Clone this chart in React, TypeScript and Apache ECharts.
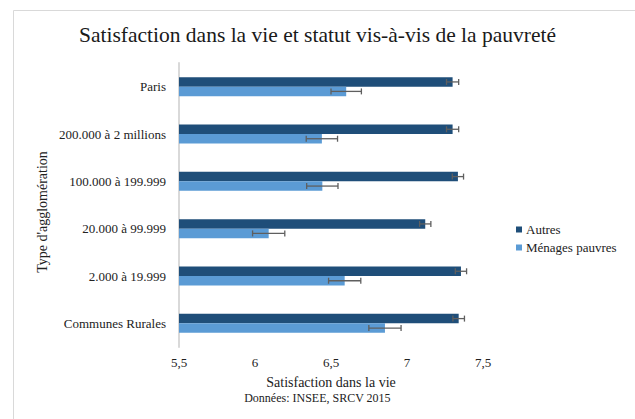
import React, { useEffect, useRef } from "react";
import * as echarts from "echarts";

const categories = [
  "Communes Rurales",
  "2.000 à 19.999",
  "20.000 à 99.999",
  "100.000 à 199.999",
  "200.000 à 2 millions",
  "Paris",
];
const autres = [7.34, 7.355, 7.12, 7.335, 7.3, 7.3];
const autresErr = [0.038, 0.037, 0.037, 0.037, 0.04, 0.04];
const pauvres = [6.855, 6.59, 6.09, 6.443, 6.44, 6.6];
const pauvresErr = [0.106, 0.106, 0.106, 0.103, 0.103, 0.1];
const xTicks = [5.5, 6, 6.5, 7, 7.5];

const FONT = "Liberation Serif";
const DARK = "#1F4E79";
const LIGHT = "#5B9BD5";
const ERR = "#5f5f5f";

function errData(vals: number[], errs: number[]) {
  return vals.map((v, i) => [i, v - errs[i], v + errs[i]]);
}

function makeErr(sign: number) {
  return (params: any, api: any) => {
    const idx = api.value(0);
    const lo = api.coord([api.value(1), idx]);
    const hi = api.coord([api.value(2), idx]);
    const band = api.size([0, 1])[1];
    const y = lo[1] + sign * band * 0.1;
    const cap = 3;
    const style = { stroke: ERR, lineWidth: 1.3 };
    return {
      type: "group",
      children: [
        { type: "line", shape: { x1: lo[0], y1: y, x2: hi[0], y2: y }, style },
        { type: "line", shape: { x1: lo[0], y1: y - cap, x2: lo[0], y2: y + cap }, style },
        { type: "line", shape: { x1: hi[0], y1: y - cap, x2: hi[0], y2: y + cap }, style },
      ],
    };
  };
}

export default function App() {
  const ref = useRef<HTMLDivElement>(null);
  useEffect(() => {
    document.body.style.margin = "0";
    const chart = echarts.init(ref.current!, null, { renderer: "svg" });
    chart.setOption({
      animation: false,
      backgroundColor: "#ffffff",
      textStyle: { fontFamily: FONT },
      title: {
        text: "Satisfaction dans la vie et statut vis-à-vis de la pauvreté",
        left: "center",
        top: 19,
        textStyle: { fontFamily: FONT, fontSize: 21.5, fontWeight: "normal", color: "#1a1a1a" },
      },
      graphic: [
        {
          type: "rect",
          shape: { x: 13.5, y: 10.5, width: 700, height: 500 },
          style: { fill: "none", stroke: "#d9d9d9", lineWidth: 1 },
          silent: true,
          z: -1,
        },
        {
          type: "text",
          left: "center",
          top: 392,
          style: { text: "Données: INSEE, SRCV 2015", font: `12px "${FONT}"`, fill: "#222" },
        },
        {
          type: "text",
          x: 42,
          y: 212,
          rotation: Math.PI / 2,
          style: {
            text: "Type d'agglomération",
            font: `14px "${FONT}"`,
            fill: "#222",
            align: "center",
            verticalAlign: "middle",
          },
        },
      ],
      legend: {
        orient: "vertical",
        left: 511,
        top: 218,
        itemWidth: 6,
        itemHeight: 6,
        itemGap: 5,
        icon: "rect",
        data: ["Autres", "Ménages pauvres"],
        textStyle: { fontFamily: FONT, fontSize: 13, color: "#222", padding: [0, 0, 0, -1] },
      },
      grid: { left: 179, right: 152, top: 63, bottom: 72, containLabel: false },
      xAxis: {
        type: "value",
        min: 5.5,
        max: 7.5,
        interval: 0.5,
        axisLine: { show: false },
        axisTick: { show: false },
        splitLine: { show: false },
        axisLabel: {
          fontFamily: FONT,
          fontSize: 13,
          color: "#222",
          margin: 9,
          formatter: (v: number) => (xTicks.includes(v) ? String(v).replace(".", ",") : ""),
        },
        name: "Satisfaction dans la vie",
        nameLocation: "middle",
        nameGap: 28,
        nameTextStyle: { fontFamily: FONT, fontSize: 14, color: "#222" },
      },
      yAxis: {
        type: "category",
        data: categories,
        axisLine: { show: true, lineStyle: { color: "#d9d9d9", width: 2 } },
        axisTick: { show: false },
        axisLabel: { fontFamily: FONT, fontSize: 13, color: "#222", margin: 13 },
      },
      series: [
        {
          name: "Autres",
          type: "bar",
          data: autres,
          itemStyle: { color: DARK },
          barGap: "0%",
          barCategoryGap: "60%",
        },
        {
          name: "Ménages pauvres",
          type: "bar",
          data: pauvres,
          itemStyle: { color: LIGHT },
          barGap: "0%",
          barCategoryGap: "60%",
        },
        {
          name: "errA",
          type: "custom",
          renderItem: makeErr(-1),
          data: errData(autres, autresErr),
          encode: { x: [1, 2], y: 0 },
          z: 5,
        },
        {
          name: "errP",
          type: "custom",
          renderItem: makeErr(1),
          data: errData(pauvres, pauvresErr),
          encode: { x: [1, 2], y: 0 },
          z: 5,
        },
      ],
    });
    return () => chart.dispose();
  }, []);
  return <div ref={ref} style={{ width: 635, height: 419 }} />;
}
